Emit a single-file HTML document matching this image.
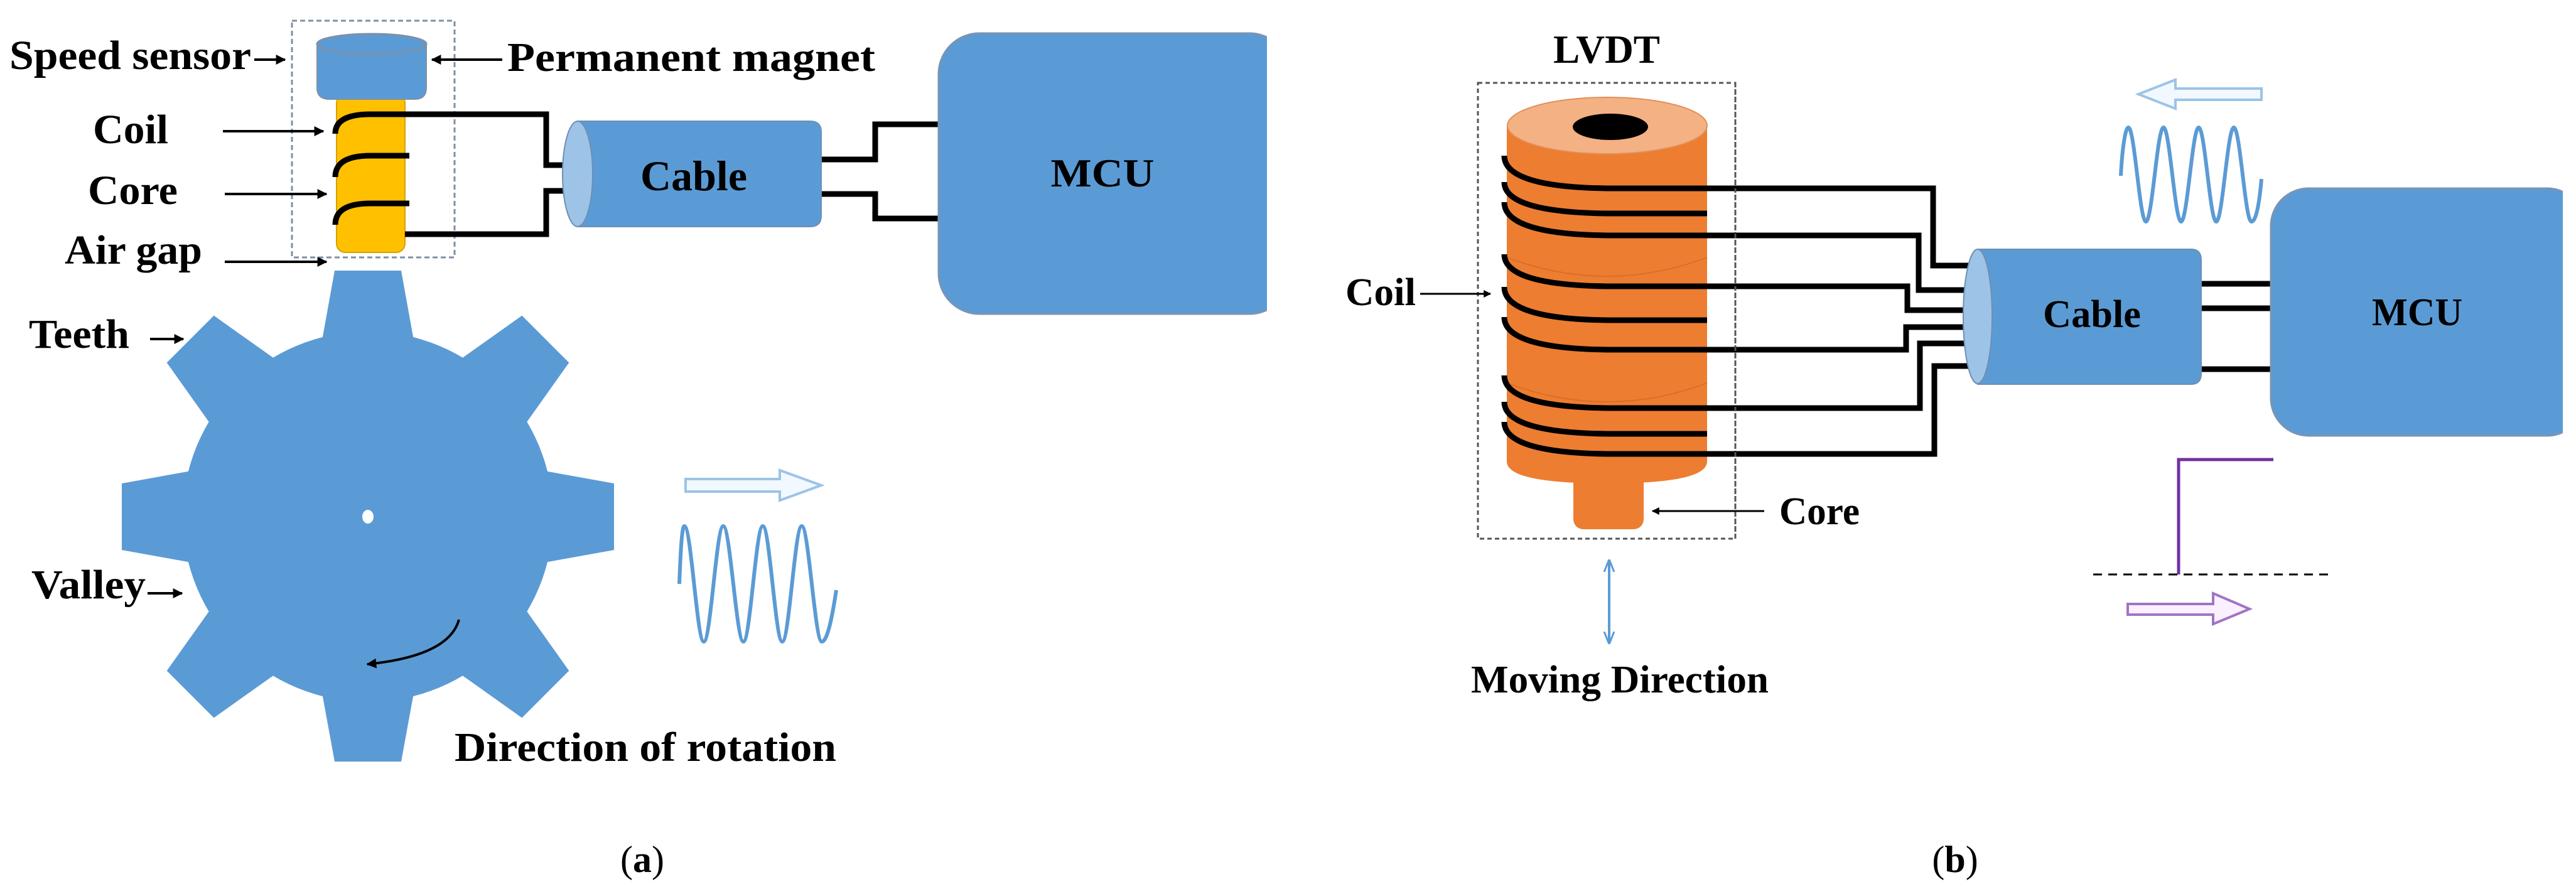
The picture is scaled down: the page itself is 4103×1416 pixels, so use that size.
<!DOCTYPE html>
<html><head><meta charset="utf-8"><style>
html,body{margin:0;padding:0;background:#fff;}
svg{display:block;}
text{font-family:"Liberation Serif",serif;font-weight:bold;fill:#000;}
</style></head><body>
<svg width="4103" height="1416" viewBox="0 0 4103 1416" xmlns="http://www.w3.org/2000/svg">
<defs>
<marker id="ah" viewBox="0 0 10 10" refX="9" refY="5" markerWidth="4" markerHeight="4" orient="auto-start-reverse"><path d="M0,0 L10,5 L0,10 z" fill="#000"/></marker>
<marker id="bh" viewBox="0 0 10 10" refX="9" refY="5" markerWidth="5" markerHeight="5" orient="auto-start-reverse"><path d="M0,1 L10,5 L0,9" fill="none" stroke="#5b9bd5" stroke-width="1.5"/></marker>
</defs>

<!-- ===== (a) ===== -->
<g fill="#5b9bd5">
<circle cx="586" cy="823" r="295"/>
<g transform="translate(586,823)">
<polygon points="-75,-270 75,-270 53,-392 -53,-392"/>
<polygon points="-75,-270 75,-270 53,-400 -53,-400" transform="rotate(45)"/>
<polygon points="-75,-270 75,-270 53,-392 -53,-392" transform="rotate(90)"/>
<polygon points="-75,-270 75,-270 53,-400 -53,-400" transform="rotate(135)"/>
<polygon points="-75,-270 75,-270 53,-390 -53,-390" transform="rotate(180)"/>
<polygon points="-75,-270 75,-270 53,-400 -53,-400" transform="rotate(225)"/>
<polygon points="-75,-270 75,-270 53,-392 -53,-392" transform="rotate(270)"/>
<polygon points="-75,-270 75,-270 53,-400 -53,-400" transform="rotate(315)"/>
</g>
</g>
<ellipse cx="586" cy="823" rx="9" ry="11" fill="#fff"/>
<path d="M731,987 Q715,1045 585,1058" fill="none" stroke="#000" stroke-width="4" marker-end="url(#ah)"/>

<rect x="465" y="33" width="259" height="377" fill="none" stroke="#7f8fa6" stroke-width="3" stroke-dasharray="8,5"/>
<rect x="536" y="150" width="109" height="252" rx="14" fill="#ffc000" stroke="#d9a000" stroke-width="2"/>
<path d="M505,70 L505,140 Q505,158 525,158 L660,158 Q679,158 679,140 L679,70 Z" fill="#5b9bd5" stroke="#7f8fa6" stroke-width="2"/>
<ellipse cx="592" cy="70" rx="87" ry="16" fill="#5b9bd5" stroke="#7f8fa6" stroke-width="3"/>
<g fill="none" stroke="#000" stroke-width="9">
<path d="M534,213 Q534,182 590,182 L870,182 L870,263 L916,263"/>
<path d="M534,282 Q534,248 590,248 L652,248"/>
<path d="M534,358 Q534,324 590,324 L652,324"/>
<path d="M645,373 L870,373 L870,304 L916,304"/>
<path d="M1308,254 L1394,254 L1394,198 L1520,198"/>
<path d="M1308,309 L1394,309 L1394,348 L1520,348"/>
</g>
<path d="M920,193 L1290,193 Q1308,193 1308,210 L1308,344 Q1308,361 1290,361 L920,361 Z" fill="#5b9bd5" stroke="#6d8fb5" stroke-width="2"/>
<ellipse cx="920" cy="277" rx="24" ry="84" fill="#9dc3e6" stroke="#6d8fb5" stroke-width="2"/>
<text x="1105" y="303" font-size="68" text-anchor="middle">Cable</text>
<rect x="1495" y="53" width="560" height="447" rx="65" fill="#5b9bd5" stroke="#7a94b3" stroke-width="3"/>
<rect x="2018" y="0" width="60" height="600" fill="#fff"/>
<rect x="2000" y="92" width="18" height="370" fill="#5b9bd5"/>
<text x="1756" y="297" font-size="64" text-anchor="middle" textLength="165" lengthAdjust="spacingAndGlyphs">MCU</text>

<g stroke="#000" stroke-width="4" fill="none">
<line x1="405" y1="95" x2="454" y2="95" marker-end="url(#ah)"/>
<line x1="800" y1="95" x2="688" y2="95" marker-end="url(#ah)"/>
<line x1="355" y1="209" x2="515" y2="209" marker-end="url(#ah)"/>
<line x1="358" y1="309" x2="520" y2="309" marker-end="url(#ah)"/>
<line x1="358" y1="417" x2="520" y2="417" marker-end="url(#ah)"/>
<line x1="239" y1="540" x2="292" y2="540" marker-end="url(#ah)"/>
<line x1="235" y1="945" x2="290" y2="945" marker-end="url(#ah)"/>
</g>
<text x="15" y="110" font-size="66" textLength="385" lengthAdjust="spacingAndGlyphs">Speed sensor</text>
<text x="808" y="113" font-size="66" textLength="586" lengthAdjust="spacingAndGlyphs">Permanent magnet</text>
<text x="148" y="228" font-size="66" textLength="120" lengthAdjust="spacingAndGlyphs">Coil</text>
<text x="140" y="325" font-size="66" textLength="143" lengthAdjust="spacingAndGlyphs">Core</text>
<text x="103" y="420" font-size="66" textLength="219" lengthAdjust="spacingAndGlyphs">Air gap</text>
<text x="46" y="554" font-size="66" textLength="160" lengthAdjust="spacingAndGlyphs">Teeth</text>
<text x="50" y="953" font-size="66" textLength="182" lengthAdjust="spacingAndGlyphs">Valley</text>
<text x="724" y="1212" font-size="66" textLength="608" lengthAdjust="spacingAndGlyphs">Direction of rotation</text>

<path d="M1092,763 L1242,763 L1242,749 L1308,773 L1242,797 L1242,783 L1092,783 Z" fill="#f2f8ff" stroke="#9dc3e6" stroke-width="4"/>
<path fill="none" stroke="#5b9bd5" stroke-width="6" d="M1082,930 C1084,880 1086,838 1090,838
C1101,838 1110,1022 1121,1022 C1132,1022 1141,838 1152,838
C1163,838 1173,1022 1184,1022 C1195,1022 1204,838 1215,838
C1226,838 1235,1022 1246,1022 C1257,1022 1266,838 1277,838
C1288,838 1298,1022 1309,1022 C1318,1022 1326,980 1332,940"/>

<text x="1023" y="1389" font-size="60" text-anchor="middle" style="font-weight:normal">(<tspan font-weight="bold">a</tspan>)</text>

<!-- ===== (b) ===== -->
<text x="2559" y="100" font-size="64" text-anchor="middle" textLength="170" lengthAdjust="spacingAndGlyphs">LVDT</text>
<rect x="2354" y="132" width="410" height="726" fill="none" stroke="#555" stroke-width="3" stroke-dasharray="7,5"/>
<rect x="2506" y="730" width="112" height="113" rx="16" fill="#ed7d31"/>
<path d="M2400,200 L2400,735 Q2400,770 2560,770 Q2719,770 2719,735 L2719,200 Z" fill="#ed7d31"/>
<g fill="none" stroke="#d06a24" stroke-width="2" opacity="0.7">
<path d="M2400,410 Q2560,470 2719,410"/>
<path d="M2400,610 Q2560,670 2719,610"/>
</g>
<ellipse cx="2560" cy="200" rx="159" ry="45" fill="#f4b183" stroke="#e0905a" stroke-width="2"/>
<ellipse cx="2565" cy="202" rx="60" ry="21" fill="#000"/>
<g fill="none" stroke="#000" stroke-width="9">
<path d="M2396,248 Q2396,298 2560,300 L3079,300 L3079,423 L3135,423"/>
<path d="M2396,290 Q2396,338 2560,340 L2719,340"/>
<path d="M2396,322 Q2396,373 2560,375 L3056,375 L3056,462 L3135,462"/>
<path d="M2396,405 Q2396,454 2560,456 L3038,456 L3038,494 L3135,494"/>
<path d="M2396,457 Q2396,508 2560,510 L2719,510"/>
<path d="M2396,505 Q2396,555 2560,557 L3036,557 L3036,521 L3135,521"/>
<path d="M2396,598 Q2396,648 2560,650 L3058,650 L3058,547 L3135,547"/>
<path d="M2396,640 Q2396,689 2560,691 L2719,691"/>
<path d="M2396,672 Q2396,721 2560,723 L3081,723 L3081,583 L3135,583"/>
<path d="M3506,452 L3620,452"/>
<path d="M3506,491 L3620,491"/>
<path d="M3506,588 L3620,588"/>
</g>
<line x1="2764" y1="132" x2="2764" y2="858" stroke="#555" stroke-width="3" stroke-dasharray="7,5"/>
<path d="M3150,397 L3490,397 Q3506,397 3506,414 L3506,595 Q3506,612 3490,612 L3150,612 Z" fill="#5b9bd5" stroke="#6d8fb5" stroke-width="2"/>
<ellipse cx="3150" cy="504" rx="23" ry="107" fill="#9dc3e6" stroke="#6d8fb5" stroke-width="2"/>
<text x="3332" y="521" font-size="62" text-anchor="middle" textLength="156" lengthAdjust="spacingAndGlyphs">Cable</text>
<rect x="3617" y="300" width="500" height="394" rx="60" fill="#5b9bd5" stroke="#7a94b3" stroke-width="3"/>
<rect x="4082" y="280" width="30" height="430" fill="#fff"/>
<rect x="4070" y="332" width="12" height="330" fill="#5b9bd5"/>
<text x="3850" y="518" font-size="62" text-anchor="middle" textLength="144" lengthAdjust="spacingAndGlyphs">MCU</text>

<path d="M3602,141 L3465,141 L3465,127 L3406,150 L3465,173 L3465,159 L3602,159 Z" fill="#f2f8ff" stroke="#9dc3e6" stroke-width="4"/>
<path fill="none" stroke="#5b9bd5" stroke-width="6" d="M3378,280 C3380,240 3385,203 3390,203
C3400,203 3408,353 3418,353 C3428,353 3436,203 3446,203
C3456,203 3464,353 3474,353 C3484,353 3492,203 3502,203
C3512,203 3520,353 3530,353 C3540,353 3548,203 3558,203
C3568,203 3576,353 3586,353 C3594,353 3599,320 3602,285"/>
<path d="M3621,732 L3470,732 L3470,915" fill="none" stroke="#7030a0" stroke-width="5"/>
<line x1="3334" y1="915" x2="3717" y2="915" stroke="#000" stroke-width="3" stroke-dasharray="14,10"/>
<path d="M3389,962 L3525,962 L3525,945 L3583,970 L3525,994 L3525,979 L3389,979 Z" fill="#fbf0ff" stroke="#a074c4" stroke-width="4"/>

<g stroke="#000" stroke-width="3" fill="none">
<line x1="2262" y1="468" x2="2374" y2="468" marker-end="url(#ah)"/>
<line x1="2810" y1="814" x2="2632" y2="814" marker-end="url(#ah)"/>
</g>
<line x1="2563" y1="893" x2="2563" y2="1024" stroke="#5b9bd5" stroke-width="4" marker-start="url(#bh)" marker-end="url(#bh)"/>
<text x="2143" y="486" font-size="62" textLength="112" lengthAdjust="spacingAndGlyphs">Coil</text>
<text x="2834" y="835" font-size="62" textLength="128" lengthAdjust="spacingAndGlyphs">Core</text>
<text x="2343" y="1103" font-size="62" textLength="474" lengthAdjust="spacingAndGlyphs">Moving Direction</text>
<text x="3114" y="1389" font-size="60" text-anchor="middle" style="font-weight:normal">(<tspan font-weight="bold">b</tspan>)</text>
</svg>
</body></html>
